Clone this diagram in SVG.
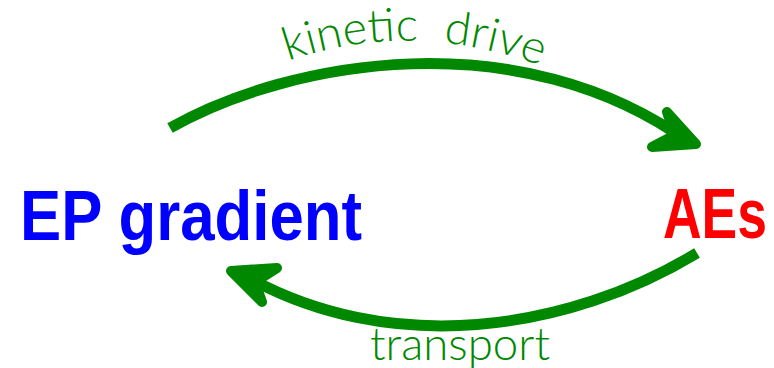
<svg xmlns="http://www.w3.org/2000/svg" width="774" height="368" viewBox="0 0 774 368">
  <style>
    .arc { fill: none; stroke: #008800; stroke-width: 11; stroke-linecap: butt; }
    .head { fill: #008800; stroke: #008800; stroke-width: 10; stroke-linecap: round; stroke-linejoin: round; }
    .lbl { fill: #008800; font-family: "Lato", "Open Sans", "DejaVu Sans", sans-serif; font-weight: 300; font-size: 46px; }
    .node { font-family: "Liberation Sans", Arial, sans-serif; font-weight: bold; font-size: 70px; }
  </style>
  <defs>
    <path id="topLabelPath" d="M285,62 Q415,16 552,70"/>
  </defs>

  <g id="ep-gradient">
    <text class="node" x="20" y="240" fill="#0000ff" textLength="342" lengthAdjust="spacingAndGlyphs">EP gradient</text>
  </g>

  <g id="aes">
    <text class="node" x="663" y="238" fill="#ff0000" textLength="104" lengthAdjust="spacingAndGlyphs">AEs</text>
  </g>

  <g id="connectors">
    <!-- kinetic drive: EP gradient to AEs -->
    <path class="arc" d="M170,128 C290,60 520,20 690,143"/>
    <path class="head" d="M652,147 L696,144 L667,112 L675,135 Z"/>
    <text class="lbl" xml:space="preserve"><textPath href="#topLabelPath" startOffset="3" textLength="258" lengthAdjust="spacingAndGlyphs">kinetic  drive</textPath></text>

    <!-- transport: AEs back to EP gradient -->
    <path class="arc" d="M697,253 C570,330 390,360 240,273"/>
    <path class="head" d="M277,268 L231,271 L262,302 L255,282 Z"/>
    <text class="lbl" x="370" y="360" textLength="180" lengthAdjust="spacingAndGlyphs">transport</text>
  </g>
</svg>
